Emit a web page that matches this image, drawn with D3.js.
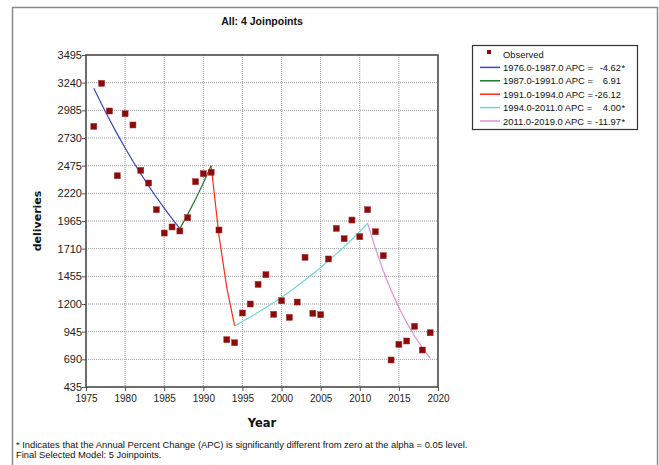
<!DOCTYPE html>
<html>
<head>
<meta charset="utf-8">
<script src="https://cdn.jsdelivr.net/npm/d3@7"></script>
<style>
  html, body { margin: 0; padding: 0; background: #fff; }
  svg { display: block; }
  text { white-space: pre; }
</style>
</head>
<body>
<svg id="chart" width="659" height="465"></svg>
<script>
// ---- data ----
const years = [1976,1977,1978,1979,1980,1981,1982,1983,1984,1985,1986,1987,1988,1989,1990,1991,1992,1993,1994,1995,1996,1997,1998,1999,2000,2001,2002,2003,2004,2005,2006,2007,2008,2009,2010,2011,2012,2013,2014,2015,2016,2017,2018,2019];
const observed = [2837,3234,2979,2382,2954,2850,2432,2315,2069,1854,1910,1873,1995,2327,2401,2414,1882,871,843,1117,1200,1381,1470,1105,1230,1077,1218,1630,1114,1101,1615,1897,1802,1974,1820,2069,1866,1645,684,828,859,994,776,935];
const fitted = [3188,3041,2900,2766,2638,2516,2400,2289,2184,2083,1986,1895,2026,2166,2315,2475,1829,1351,998,1038,1080,1123,1168,1214,1263,1313,1366,1421,1477,1536,1598,1662,1728,1797,1869,1944,1711,1507,1326,1167,1028,905,796,701];
const segStart = [1976,1987,1991,1994,2011];
const segEnd   = [1987,1991,1994,2011,2019];
const segAPC   = ["-4.62","6.91","-26.12","4.00","-11.97"];
const segSig   = [true,false,false,true,true];
const segColors = ["#3a46c0","#1e7a2a","#ff2a1a","#6fd8d8","#e08fd2"];
const xTicks = [1975,1980,1985,1990,1995,2000,2005,2010,2015,2020];
const yTicks = [435,690,945,1200,1455,1710,1965,2220,2475,2730,2985,3240,3495];
const title = "All: 4 Joinpoints";
const xLabel = "Year";
const yLabel = "deliveries";
const notes = ["* Indicates that the Annual Percent Change (APC) is significantly different from zero at the alpha = 0.05 level.",
               "Final Selected Model: 5 Joinpoints."];

// ---- layout ----
const svg = d3.select("#chart");
const L = 86, R = 438, T = 55, B = 387;
const x = d3.scaleLinear().domain([1975, 2020]).range([L, R]);
const y = d3.scaleLinear().domain([435, 3495]).range([B, T]);
const sans = "'Liberation Sans', Arial, sans-serif";

svg.append("rect").attr("width", 659).attr("height", 465).attr("fill", "#fff");
// outer frame
svg.append("path").attr("d", "M12.5,475 V7.5 H657.5 V475")
  .attr("fill", "none").attr("stroke", "#8a8a8a").attr("stroke-width", 1.5);

// title
svg.append("text").attr("x", (L + R) / 2).attr("y", 25).attr("text-anchor", "middle")
  .attr("font-family", sans).attr("font-weight", "bold")
  .attr("font-size", 10.5).attr("fill", "#111").text(title);

// grid
const g = svg.append("g");
g.selectAll("line.gx").data(xTicks.slice(1, -1)).enter().append("line")
  .attr("x1", d => x(d)).attr("x2", d => x(d)).attr("y1", T).attr("y2", B)
  .attr("stroke", "#9a9a9a").attr("stroke-width", 1).attr("stroke-dasharray", "1,1");
g.selectAll("line.gy").data(yTicks.slice(1, -1)).enter().append("line")
  .attr("x1", L).attr("x2", R).attr("y1", d => y(d)).attr("y2", d => y(d))
  .attr("stroke", "#9a9a9a").attr("stroke-width", 1).attr("stroke-dasharray", "1,1");

// axes
const xAxis = d3.axisBottom(x).tickValues(xTicks).tickFormat(d3.format("d")).tickSize(4).tickSizeOuter(0);
const yAxis = d3.axisLeft(y).tickValues(yTicks).tickFormat(d3.format("d")).tickSize(4).tickSizeOuter(0);
const gx = svg.append("g").attr("transform", `translate(0,${B})`).call(xAxis);
const gy = svg.append("g").attr("transform", `translate(${L},0)`).call(yAxis);
[gx, gy].forEach(a => {
  a.select(".domain").remove();
  a.selectAll("line").attr("stroke", "#555");
  a.selectAll("text").attr("font-family", sans).attr("fill", "#222");
});
gx.selectAll("text").attr("font-size", 10).attr("dy", "0.9em").attr("y", 6);
gy.selectAll("text").attr("font-size", 11).attr("x", -4);

// plot border
svg.append("rect").attr("x", L).attr("y", T).attr("width", R - L).attr("height", B - T)
  .attr("fill", "none").attr("stroke", "#4a4a4a").attr("stroke-width", 1.6);

// axis labels
svg.append("text").attr("x", (L + R) / 2).attr("y", 427).attr("text-anchor", "middle")
  .attr("font-family", "'DejaVu Sans', Verdana, sans-serif").attr("font-weight", "bold")
  .attr("font-size", 11.5).attr("fill", "#111").text(xLabel);
svg.append("text").attr("transform", "translate(41,221) rotate(-90)").attr("text-anchor", "middle")
  .attr("font-family", "'DejaVu Sans', Verdana, sans-serif").attr("font-weight", "bold")
  .attr("font-size", 11).attr("fill", "#111").text(yLabel);

// fitted segments
const pts = years.map((yr, i) => ({ yr, v: fitted[i] }));
const line = d3.line().x(d => x(d.yr)).y(d => y(d.v));
segStart.forEach((s, i) => {
  const seg = pts.filter(p => p.yr >= s && p.yr <= segEnd[i]);
  svg.append("path").datum(seg).attr("d", line).attr("fill", "none")
    .attr("stroke", segColors[i]).attr("stroke-width", 1.2);
});

// observed markers
svg.selectAll("rect.obs").data(years.map((yr, i) => ({ yr, v: observed[i] }))).enter().append("rect")
  .attr("x", d => x(d.yr) - 3).attr("y", d => y(d.v) - 3).attr("width", 6).attr("height", 6)
  .attr("fill", "#8b0a0a").attr("stroke", "#a83030").attr("stroke-width", 0.5);

// legend
const lg = svg.append("g");
lg.append("rect").attr("x", 472.5).attr("y", 45.5).attr("width", 165).attr("height", 84)
  .attr("fill", "#fff").attr("stroke", "#333").attr("stroke-width", 1.2);
const rowY0 = 54, rowH = 13.4, fs = 9.4, valEnd = 621;
lg.append("rect").attr("x", 487).attr("y", rowY0 - 4).attr("width", 4).attr("height", 4).attr("fill", "#8b0a0a");
lg.append("text").attr("x", 503).attr("y", rowY0 + 3.5).attr("font-family", sans).attr("font-size", fs)
  .attr("fill", "#111").text("Observed");
segStart.forEach((s, i) => {
  const yy = rowY0 + rowH * (i + 1);
  lg.append("line").attr("x1", 480).attr("x2", 500).attr("y1", yy).attr("y2", yy)
    .attr("stroke", segColors[i]).attr("stroke-width", 1.5);
  const lab = lg.append("text").attr("x", 503).attr("y", yy + 3.5).attr("font-family", sans).attr("font-size", fs)
    .attr("fill", "#111").text(`${s.toFixed(1)}-${segEnd[i].toFixed(1)} APC =`);
  const labEnd = 503 + lab.node().getComputedTextLength();
  const val = lg.append("text").attr("y", yy + 3.5).attr("font-family", sans)
    .attr("font-size", fs).attr("fill", "#111").text(segAPC[i]);
  const vw = val.node().getComputedTextLength();
  const vx = Math.max(valEnd - vw, labEnd + 1);
  val.attr("x", vx);
  if (segSig[i]) {
    lg.append("text").attr("x", vx + vw + 0.5).attr("y", yy + 3.5).attr("font-family", sans)
      .attr("font-size", fs).attr("fill", "#111").text("*");
  }
});

// footnotes
notes.forEach((t, i) => {
  svg.append("text").attr("x", 16).attr("y", 447.5 + i * 10).attr("font-family", sans)
    .attr("font-size", 9.4).attr("fill", "#111").text(t);
});
</script>
</body>
</html>
